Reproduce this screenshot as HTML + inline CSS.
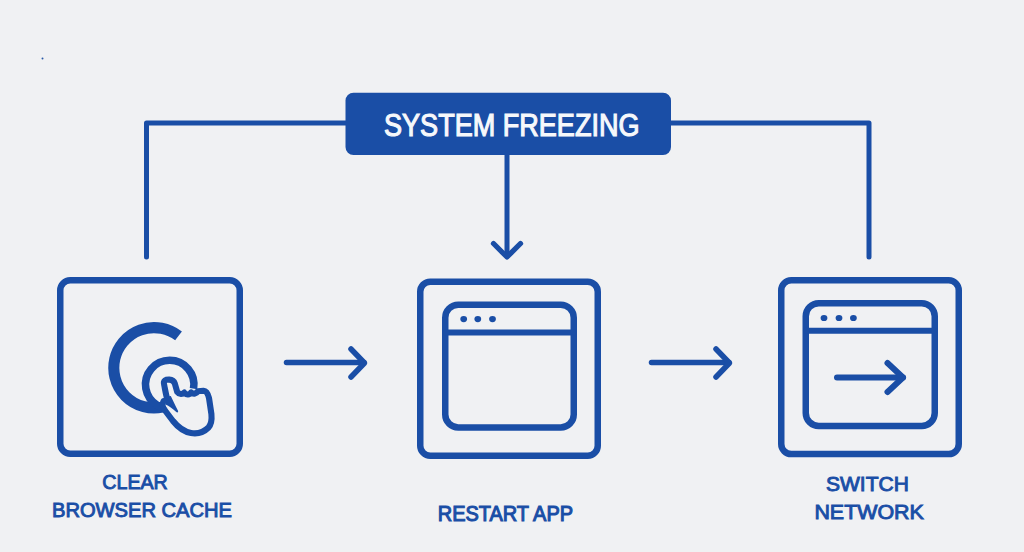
<!DOCTYPE html>
<html>
<head>
<meta charset="utf-8">
<style>
html,body{margin:0;padding:0;}
body{width:1024px;height:552px;overflow:hidden;background:#f0f1f3;font-family:"Liberation Sans",sans-serif;}
svg{position:absolute;left:0;top:0;display:block;}
</style>
</head>
<body>
<svg width="1024" height="552" viewBox="0 0 1024 552">
  <rect x="0" y="0" width="1024" height="552" fill="#f0f1f3"/>
  <circle cx="42.5" cy="58.4" r="1" fill="#2a5aa8"/>

  <g fill="none" stroke="#1a4ea6" stroke-linecap="round" stroke-linejoin="round">
    <!-- connectors -->
    <path d="M346 123 H146.5 V257" stroke-width="5"/>
    <path d="M670 123 H869 V257" stroke-width="5"/>
    <path d="M507 150 V256" stroke-width="5"/>
    <path d="M493.5 243.5 L507 257 L520.5 243.5" stroke-width="5.3"/>

    <!-- boxes -->
    <rect x="60.25" y="280.25" width="179.5" height="173.5" rx="10" stroke-width="6.5"/>
    <rect x="420.25" y="281.65" width="177.5" height="174.1" rx="10" stroke-width="6.5"/>
    <rect x="781.25" y="280.25" width="177.5" height="173.8" rx="10" stroke-width="6.5"/>

    <!-- arrows between -->
    <path d="M286.5 362.5 H364" stroke-width="5.5"/>
    <path d="M351 349 L364.5 363 L351 377" stroke-width="5.5"/>
    <path d="M651.5 362.5 H729" stroke-width="5.5"/>
    <path d="M716 349 L729.5 363 L716 377" stroke-width="5.5"/>

    <!-- middle window -->
    <rect x="445.25" y="304.75" width="128.5" height="122.7" rx="13" stroke-width="6.5"/>
    <path d="M446 332.4 H573" stroke-width="6"/>

    <!-- right window -->
    <rect x="805.75" y="303.25" width="129" height="122.7" rx="13" stroke-width="6.5"/>
    <path d="M806 330.8 H934" stroke-width="6"/>
    <path d="M837 377.5 H903" stroke-width="6"/>
    <path d="M887.5 363 L903 377.5 L887.5 392" stroke-width="6"/>

    <!-- left icon: C -->
    <path d="M178.53 335.95 A40.2 40.2 0 1 0 162.36 407.12" stroke-width="11.1" stroke-linecap="butt"/>
    <!-- ring -->
    <path d="M177.98 407.24 A24.2 24.2 0 1 1 193.53 388.7" stroke-width="7.6" stroke-linecap="butt"/>
    <!-- hand -->
    <path d="M164.2 385 C162.8 380 166 379.5 169.3 379.6 C172.5 379.8 174 381 174.8 383.5 L177.2 391.8 L203.5 390.8 C206.5 391 208 394 209 398 L211.4 414 C212 420 211.5 424 208.5 427.5 C204 432 197 434 191 433 C183 431.5 177 426 173 421 L164.3 409.5 L164.2 385 Z" stroke="none" fill="#f0f1f3"/>
    <path d="M164.3 409.5 L173 421 C177 426 183 431.5 191 433 C197 434 204 432 208.5 427.5 C211.5 424 212 420 211.4 414 L209 398 C208 394 206.5 391 203.5 390.8 L197.8 391.2 C196.5 393.6 193.5 394.5 191.2 392.4 C189.5 395 186.5 395.2 184.3 392.6 C182.5 394.5 179.5 394.8 177.2 391.8 L174.8 383.5 C174 381 172.5 379.8 169.3 379.6 C166 379.5 162.8 380 164.2 385 C165.2 390 166 395 167.5 400" stroke-width="6.1" stroke-linecap="round"/>
    <path d="M165 397 L170.8 396 C172.5 400 175 404.5 178 410.8 C178.6 412.5 177.2 413 176 411.8 C172.5 408.5 169 406 165.5 404.5 Z" stroke="none" fill="#1a4ea6"/>
    <path d="M163.5 401 C162 404 162.3 407 164.3 409.5" stroke-width="5.9"/>
  </g>

  <g fill="#1a4ea6">
    <ellipse cx="463.7" cy="319.1" rx="3.4" ry="3.1"/>
    <ellipse cx="477.8" cy="319.1" rx="3.4" ry="3.1"/>
    <ellipse cx="492.5" cy="319.1" rx="3.4" ry="3.1"/>
    <ellipse cx="824" cy="318" rx="3.4" ry="3.1"/>
    <ellipse cx="839" cy="318" rx="3.4" ry="3.1"/>
    <ellipse cx="853.4" cy="318" rx="3.4" ry="3.1"/>
  </g>

  <!-- banner -->
  <rect x="345.5" y="92.7" width="325.5" height="62.3" rx="8" fill="#1a4ea6"/>
  <text x="384" y="135.7" font-family="Liberation Sans" font-weight="normal" font-size="30.5" fill="#f6f8fb" stroke="#f6f8fb" stroke-width="1.15" textLength="255.5" lengthAdjust="spacingAndGlyphs">SYSTEM FREEZING</text>

  <g font-family="Liberation Sans" font-weight="normal" font-size="20.5" fill="#1a4ea6" stroke="#1a4ea6" stroke-width="0.95">
    <text x="102.3" y="488.8" textLength="65.5" lengthAdjust="spacingAndGlyphs">CLEAR</text>
    <text x="52" y="517.3" textLength="180" lengthAdjust="spacingAndGlyphs">BROWSER CACHE</text>
    <text x="437.8" y="521" font-size="21.3" stroke-width="1.1" textLength="135.2" lengthAdjust="spacingAndGlyphs">RESTART APP</text>
    <text x="826" y="490.5" font-size="21" textLength="82.8" lengthAdjust="spacingAndGlyphs">SWITCH</text>
    <text x="814.4" y="519.1" font-size="21" textLength="109.4" lengthAdjust="spacingAndGlyphs">NETWORK</text>
  </g>
</svg>
</body>
</html>
